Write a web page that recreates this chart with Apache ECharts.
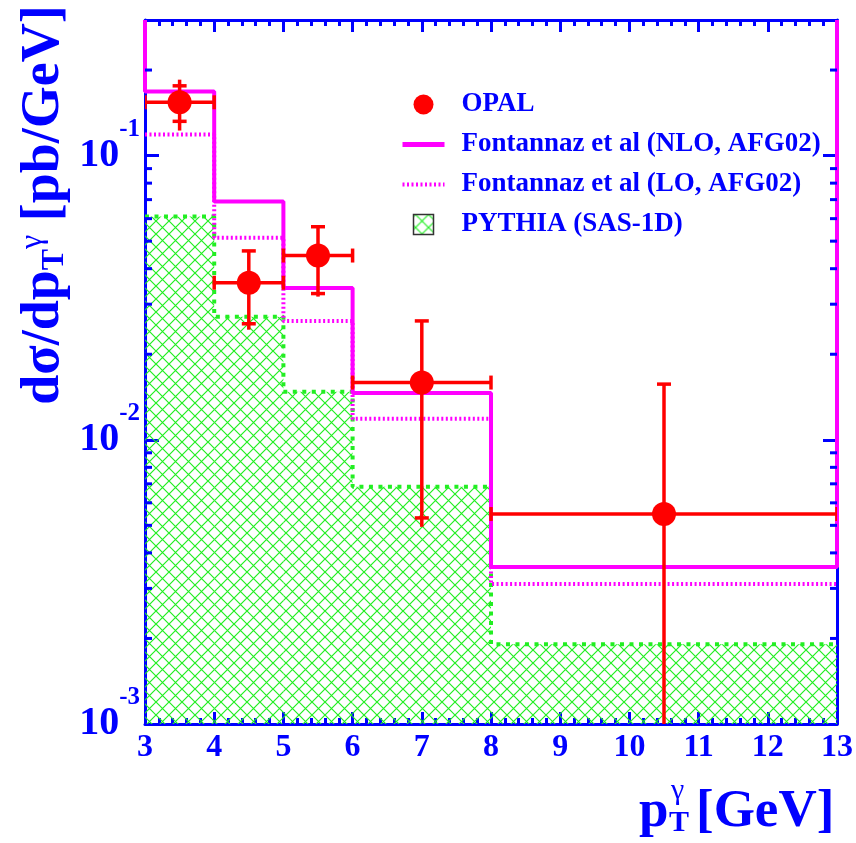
<!DOCTYPE html>
<html>
<head>
<meta charset="utf-8">
<script src="https://cdn.jsdelivr.net/npm/echarts@6/dist/echarts.min.js"></script>
<style>
  html, body { margin: 0; padding: 0; background: #fff; }
  #chart { width: 856px; height: 843px; }
</style>
</head>
<body>
<div id="chart"></div>
<script>
// bins of p_T (GeV)
const binLow = [3, 4, 5, 6, 8]
const binHigh = [4, 5, 6, 8, 13]

// theory curves, pb/GeV per bin
const nloValues = [0.168, 0.0689, 0.0342, 0.01462, 0.00357]
const loValues = [0.1186, 0.0514, 0.0262, 0.01186, 0.00311]
const pythiaValues = [0.0610, 0.0271, 0.01475, 0.00684, 0.00191]

// OPAL points
const opalX = [3.5, 4.5, 5.5, 7, 10.5]
const opalY = [0.154, 0.0357, 0.0445, 0.0159, 0.00548]
const opalStatLo = [0.132, 0.0256, 0.0327, 0.00531, 0.0005]
const opalStatHi = [0.176, 0.0462, 0.0562, 0.0262, 0.0157]
const opalTotLo = [0.1225, 0.0244, 0.0319, 0.00494, 0.0005]
const opalTotHi = [0.185, 0.0462, 0.0562, 0.0262, 0.0157]

// log minor ticks (2..9 x 10^k)
const yMinorTicks = [0.002, 0.003, 0.004, 0.005, 0.006, 0.007, 0.008, 0.009,
  0.02, 0.03, 0.04, 0.05, 0.06, 0.07, 0.08, 0.09, 0.2]

const X_MIN = 3, X_MAX = 13, Y_MIN = 0.001, Y_MAX = 0.3
const BLUE = '#0000ff', RED = '#ff0000', MAGENTA = '#ff00ff', GREEN = '#22ee22'
const FONT = '"Liberation Serif", "DejaVu Serif", serif'

// green cross hatch
const hatch = document.createElement('canvas')
hatch.width = 13
hatch.height = 13
const hctx = hatch.getContext('2d')
hctx.strokeStyle = '#22ee22'
hctx.lineWidth = 1.2
hctx.beginPath()
hctx.moveTo(0, 0); hctx.lineTo(13, 13)
hctx.moveTo(13, 0); hctx.lineTo(0, 13)
hctx.stroke()
const hatchFill = { type: 'pattern', image: hatch, repeat: 'repeat' }

// step path through the bins
const stepPath = (vals, closeEdges) => {
  const pts = []
  if (closeEdges) pts.push([binLow[0], Y_MAX])
  vals.forEach((v, i) => {
    pts.push([binLow[i], v])
    pts.push([binHigh[i], v])
  })
  if (closeEdges) pts.push([binHigh[binHigh.length - 1], Y_MAX])
  return pts
}

const pythiaBins = pythiaValues.map((v, i) => [binLow[i], binHigh[i], v])
const opalData = opalX.map((x, i) => [x, opalY[i], binLow[i], binHigh[i],
  opalStatLo[i], opalStatHi[i], opalTotLo[i], opalTotHi[i]])

const tickStyle = { color: BLUE, width: 3 }

const xAxisBase = {
  type: 'value', min: X_MIN, max: X_MAX, interval: 1,
  axisLine: { show: true, onZero: false, lineStyle: { color: BLUE, width: 3 } },
  axisTick: { show: true, inside: true, length: 12, lineStyle: tickStyle },
  minorTick: { show: true, splitNumber: 5, length: 6, lineStyle: tickStyle },
  splitLine: { show: false }
}
const yAxisBase = {
  type: 'log', logBase: 10, min: Y_MIN, max: Y_MAX,
  axisLine: { show: true, lineStyle: { color: BLUE, width: 3 } },
  axisTick: { show: true, inside: true, length: 14, lineStyle: tickStyle },
  splitLine: { show: false }
}

const chart = echarts.init(document.getElementById('chart'))

const option = {
  animation: false,
  backgroundColor: '#fff',
  grid: { left: 145, right: 19, top: 20, bottom: 119, containLabel: false },
  xAxis: [
    {
      ...xAxisBase, position: 'bottom',
      axisLabel: {
        show: true, margin: 8, color: BLUE, fontSize: 32, fontWeight: 'bold', fontFamily: FONT
      }
    },
    { ...xAxisBase, position: 'top', axisLabel: { show: false } }
  ],
  yAxis: [
    {
      ...yAxisBase, position: 'left',
      axisLabel: {
        show: true, margin: 5, color: BLUE, fontFamily: FONT, fontWeight: 'bold',
        formatter(v) {
          const e = Math.round(Math.log10(v))
          if (Math.abs(Math.log10(v) - e) > 1e-6) return ''
          return `{b|10}{s|${e}}`
        },
        rich: {
          b: { fontSize: 40, fontWeight: 'bold', fontFamily: FONT, color: BLUE },
          s: { fontSize: 25, fontWeight: 'bold', fontFamily: FONT, color: BLUE, padding: [0, 0, 52, 0] }
        }
      }
    },
    { ...yAxisBase, position: 'right', axisLabel: { show: false } }
  ],
  legend: {
    orient: 'vertical', left: 395, top: 86,
    itemWidth: 42, itemHeight: 20, itemGap: 13,
    selectedMode: false,
    textStyle: {
      fontFamily: FONT, fontWeight: 'bold', fontSize: 27, color: BLUE, padding: [0, 0, 0, 12]
    },
    data: [
      { name: 'OPAL', icon: 'circle', itemStyle: { color: RED } },
      { name: 'Fontannaz et al (NLO, AFG02)', itemStyle: { opacity: 0 }, lineStyle: { width: 5 } },
      { name: 'Fontannaz et al (LO, AFG02)', itemStyle: { opacity: 0 }, lineStyle: { width: 4 } },
      {
        name: 'PYTHIA (SAS-1D)', icon: 'path://M0,0H20V20H0Z',
        itemStyle: { color: hatchFill, borderColor: '#333', borderWidth: 1.5 }
      }
    ]
  },
  graphic: [
    {
      type: 'text', x: 44, y: 205, rotation: Math.PI / 2,
      style: {
        text: '{m|dσ/dp}{sub|T}{sup|γ}{m| [pb/GeV]}',
        textAlign: 'center', textVerticalAlign: 'middle',
        rich: {
          m: { fontSize: 54, fontWeight: 'bold', fontFamily: FONT, fill: BLUE, color: BLUE },
          sub: { fontSize: 32, fontWeight: 'bold', fontFamily: FONT, fill: BLUE, color: BLUE, verticalAlign: 'bottom' },
          sup: { fontSize: 32, fontFamily: FONT, fill: BLUE, color: BLUE, verticalAlign: 'top' }
        }
      }
    },
    {
      type: 'text', x: 639, y: 812,
      style: { text: 'p', font: `bold 53px ${FONT}`, fill: BLUE, textAlign: 'left', textVerticalAlign: 'middle' }
    },
    {
      type: 'text', x: 671, y: 791,
      style: { text: 'γ', font: `30px ${FONT}`, fill: BLUE, textAlign: 'left', textVerticalAlign: 'middle' }
    },
    {
      type: 'text', x: 669, y: 823,
      style: { text: 'T', font: `bold 30px ${FONT}`, fill: BLUE, textAlign: 'left', textVerticalAlign: 'middle' }
    },
    {
      type: 'text', x: 696, y: 812,
      style: { text: '[GeV]', font: `bold 53px ${FONT}`, fill: BLUE, textAlign: 'left', textVerticalAlign: 'middle' }
    }
  ],
  series: [
    {
      name: 'PYTHIA (SAS-1D)',
      type: 'custom',
      clip: true,
      z: 1,
      data: pythiaBins,
      encode: { x: [0, 1], y: 2 },
      renderItem(params, api) {
        const p0 = api.coord([api.value(0), Y_MIN])
        const p1 = api.coord([api.value(1), api.value(2)])
        return {
          type: 'rect',
          shape: { x: p0[0], y: p1[1], width: p1[0] - p0[0], height: p0[1] - p1[1] },
          style: { fill: hatchFill }
        }
      }
    },
    {
      name: 'pythia-outline',
      type: 'line',
      z: 2,
      data: stepPath(pythiaValues, false),
      symbol: 'none',
      lineStyle: { color: GREEN, width: 4, type: [4, 5.5] }
    },
    {
      name: 'Fontannaz et al (LO, AFG02)',
      type: 'line',
      z: 3,
      data: stepPath(loValues, false),
      symbol: 'none',
      itemStyle: { color: MAGENTA },
      lineStyle: { color: MAGENTA, width: 4, type: [2, 2.5] }
    },
    {
      name: 'Fontannaz et al (NLO, AFG02)',
      type: 'line',
      z: 4,
      data: stepPath(nloValues, true),
      symbol: 'none',
      itemStyle: { color: MAGENTA },
      lineStyle: { color: MAGENTA, width: 4 }
    },
    {
      name: 'OPAL',
      type: 'custom',
      clip: true,
      z: 5,
      data: opalData,
      encode: { x: 0, y: 1 },
      itemStyle: { color: RED },
      renderItem(params, api) {
        const c = api.coord([api.value(0), api.value(1)])
        const xl = api.coord([api.value(2), api.value(1)])[0]
        const xh = api.coord([api.value(3), api.value(1)])[0]
        const ysl = api.coord([api.value(0), api.value(4)])[1]
        const ysh = api.coord([api.value(0), api.value(5)])[1]
        const ytl = api.coord([api.value(0), api.value(6)])[1]
        const yth = api.coord([api.value(0), api.value(7)])[1]
        const st = { stroke: RED, lineWidth: 3.5 }
        const line = (x1, y1, x2, y2) => ({ type: 'line', shape: { x1, y1, x2, y2 }, style: st })
        return {
          type: 'group',
          children: [
            line(xl, c[1], xh, c[1]),
            line(xl, c[1] - 7, xl, c[1] + 7),
            line(xh, c[1] - 7, xh, c[1] + 7),
            line(c[0], ytl, c[0], yth),
            line(c[0] - 7, ysl, c[0] + 7, ysl),
            line(c[0] - 7, ysh, c[0] + 7, ysh),
            { type: 'circle', shape: { cx: c[0], cy: c[1], r: 12 }, style: { fill: RED } }
          ]
        }
      }
    },
    {
      name: 'y-minor-ticks',
      type: 'custom',
      z: 6,
      silent: true,
      data: yMinorTicks.map(v => [X_MIN, v]),
      encode: { x: 0, y: 1 },
      renderItem(params, api) {
        const l = api.coord([X_MIN, api.value(1)])
        const r = api.coord([X_MAX, api.value(1)])
        const st = { stroke: BLUE, lineWidth: 3 }
        return {
          type: 'group',
          children: [
            { type: 'line', shape: { x1: l[0], y1: l[1], x2: l[0] + 7, y2: l[1] }, style: st },
            { type: 'line', shape: { x1: r[0] - 7, y1: r[1], x2: r[0], y2: r[1] }, style: st }
          ]
        }
      }
    }
  ]
}

chart.setOption(option)
</script>
</body>
</html>
